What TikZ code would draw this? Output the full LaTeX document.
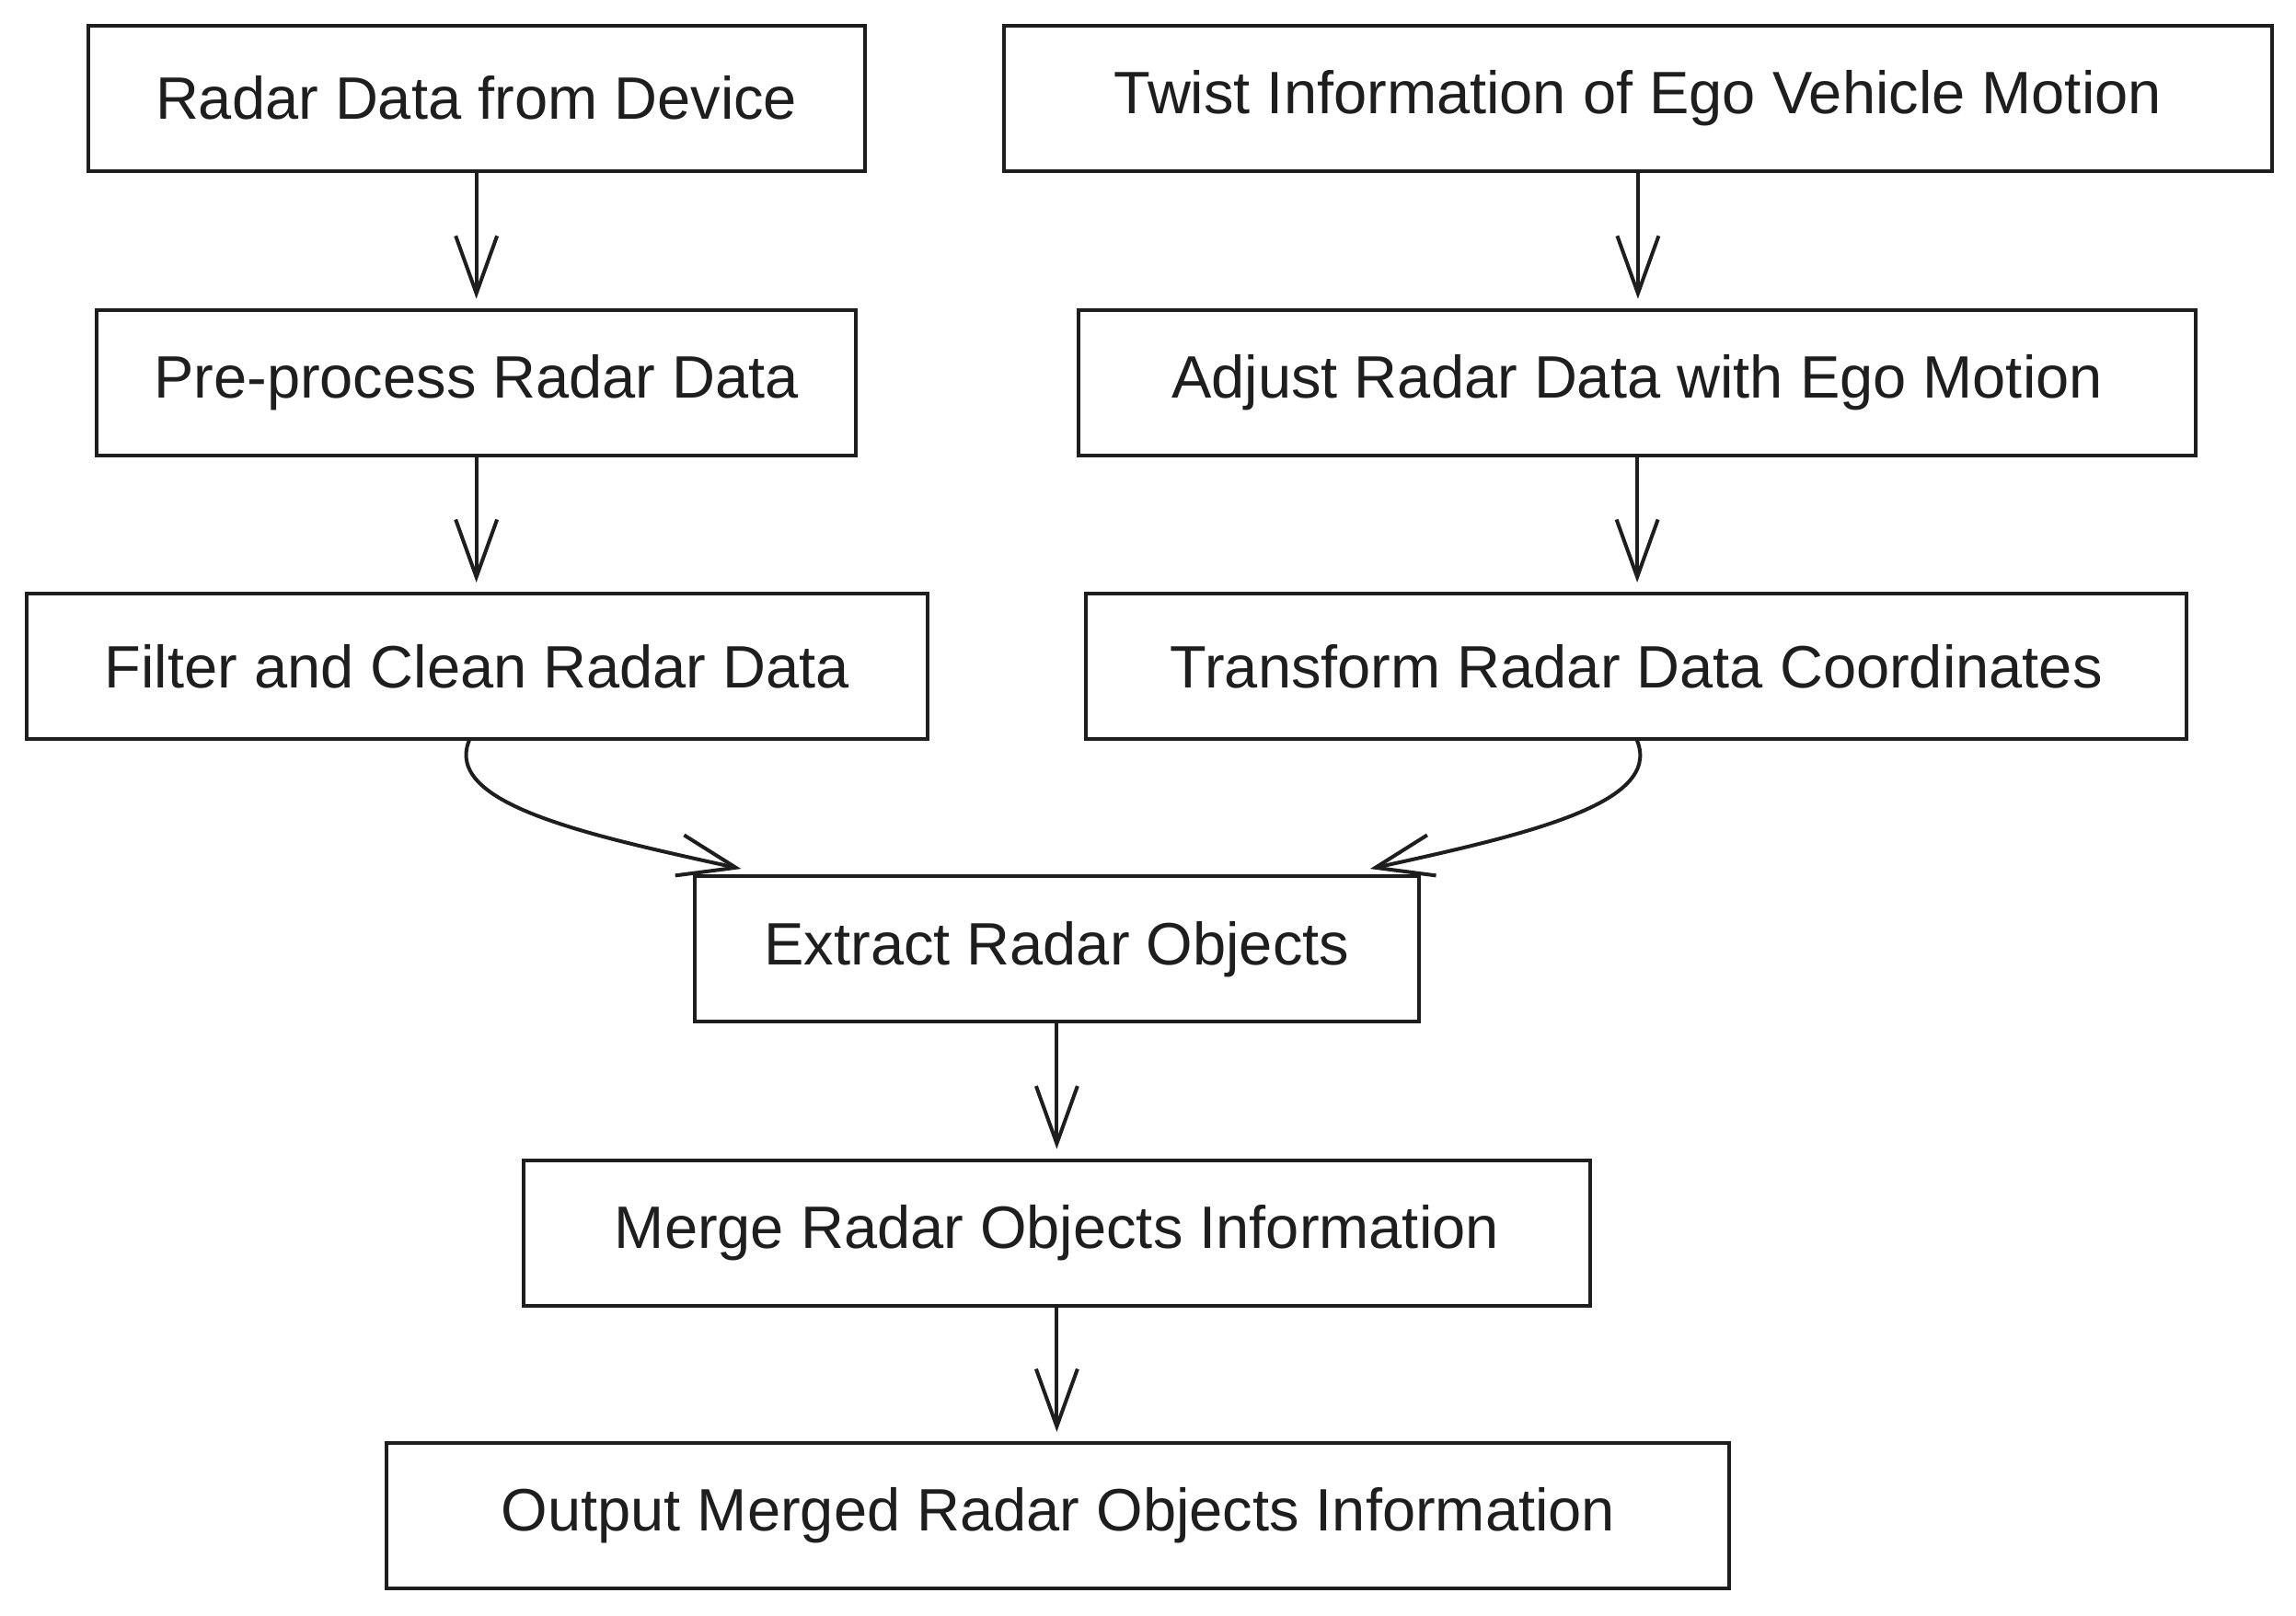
\documentclass[tikz,border=0pt]{standalone}
\usepackage{fontspec}
\setmainfont{Liberation Sans}
\usetikzlibrary{arrows.meta,calc}
\definecolor{ink}{HTML}{1E1E1E}
\begin{document}
\begin{tikzpicture}[x=0.6371pt,y=-0.6371pt,
  box/.style={draw=ink,line width=1.6pt,rectangle,inner sep=0pt,minimum height=63.2pt,
    font=\fontsize{26}{31}\selectfont,text=ink},
  arr/.style={draw=ink,line width=1.6pt,line cap=round,
    -{Straight Barb[length=25pt,width=18pt,line width=1.6pt]},shorten >=4pt}]
\useasboundingbox[fill=white] (0pt,0pt) rectangle (998pt,-702pt);
\node[box,minimum width=337.7pt] (b1) at (325,67) {Radar Data from Device};
\node[box,minimum width=330.0pt] (b2) at (325,261) {Pre-process Radar Data};
\node[box,minimum width=391.8pt] (b3) at (325.5,454.5) {Filter and Clean Radar Data};
\node[box,minimum width=551.1pt] (b4) at (1117.5,67) {Twist Information of Ego Vehicle Motion};
\node[box,minimum width=485.5pt] (b5) at (1117,261) {Adjust Radar Data with Ego Motion};
\node[box,minimum width=478.4pt] (b6) at (1116.5,454.5) {Transform Radar Data Coordinates};
\node[box,minimum width=314.8pt] (b7) at (721,647.5) {Extract Radar Objects};
\node[box,minimum width=463.8pt] (b8) at (721,841) {Merge Radar Objects Information};
\node[box,minimum width=583.6pt] (b9) at (722,1034) {Output Merged Radar Objects Information};
\coordinate (t1) at ([xshift=21pt,yshift=2.5pt]b7.north west);
\coordinate (t2) at ([xshift=-22pt,yshift=2.5pt]b7.north east);
\draw[arr] (b1.south) -- (b1.south |- b2.north);
\draw[arr] (b2.south) -- (b2.south |- b3.north);
\draw[arr] (b4.south) -- (b4.south |- b5.north);
\draw[arr] (b5.south) -- (b5.south |- b6.north);
\draw[arr] (b7.south) -- (b7.south |- b8.north);
\draw[arr] (b8.south) -- (b8.south |- b9.north);
\draw[arr,shorten >=0pt] ([xshift=-3.5pt]b3.south) .. controls +(-11pt,-27.5pt) and +(-67pt,14.7pt) .. (t1);
\draw[arr,shorten >=0pt] ([xshift=0.3pt]b6.south) .. controls +(11pt,-27.5pt) and +(67pt,14.7pt) .. (t2);
\end{tikzpicture}
\end{document}
